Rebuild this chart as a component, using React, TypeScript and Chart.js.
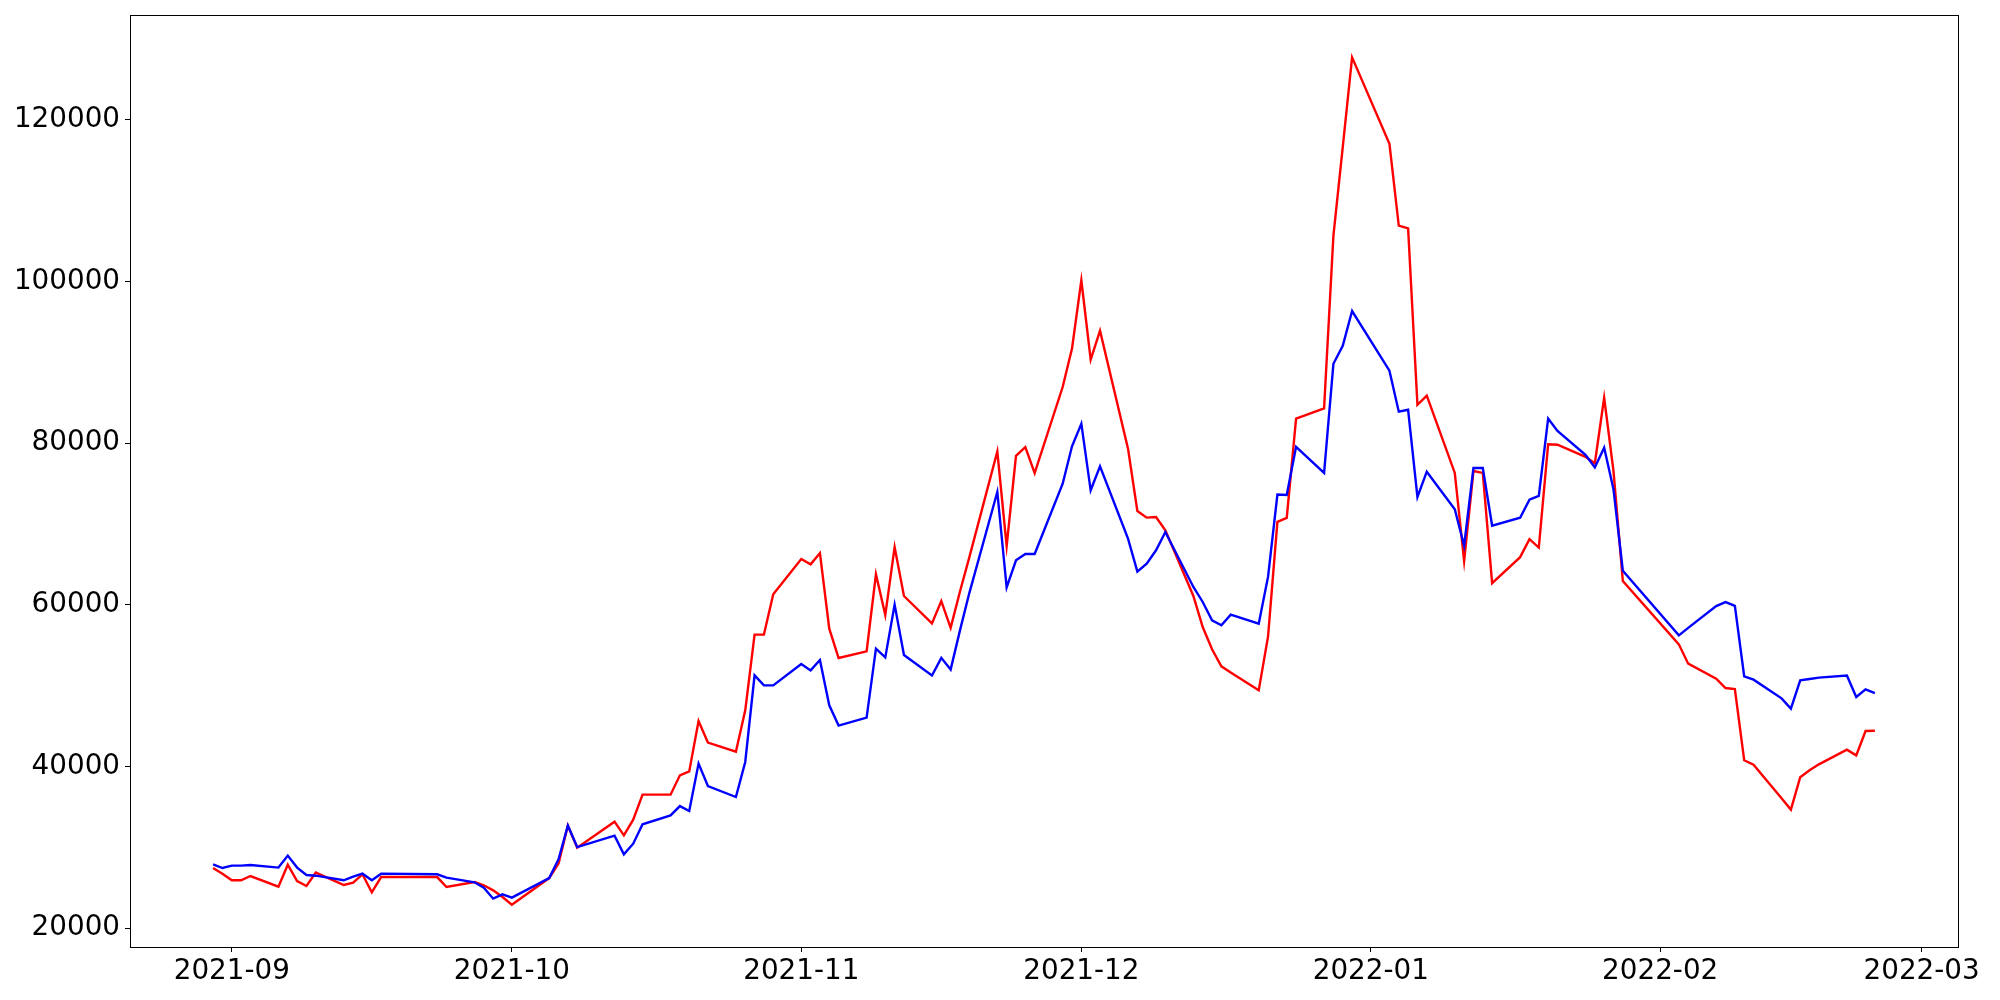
import React, { useEffect, useRef } from "react";
import { Chart, registerables } from "chart.js";

Chart.register(...registerables);

const dates: string[] = [
  "2021-08-30", "2021-08-31", "2021-09-01", "2021-09-02", "2021-09-03",
  "2021-09-06", "2021-09-07", "2021-09-08", "2021-09-09", "2021-09-10",
  "2021-09-13", "2021-09-14", "2021-09-15", "2021-09-16", "2021-09-17",
  "2021-09-23", "2021-09-24", "2021-09-27", "2021-09-28", "2021-09-29",
  "2021-09-30", "2021-10-01", "2021-10-05", "2021-10-06", "2021-10-07",
  "2021-10-08", "2021-10-12", "2021-10-13", "2021-10-14", "2021-10-15",
  "2021-10-18", "2021-10-19", "2021-10-20", "2021-10-21", "2021-10-22",
  "2021-10-25", "2021-10-26", "2021-10-27", "2021-10-28", "2021-10-29",
  "2021-11-01", "2021-11-02", "2021-11-03", "2021-11-04", "2021-11-05",
  "2021-11-08", "2021-11-09", "2021-11-10", "2021-11-11", "2021-11-12",
  "2021-11-15", "2021-11-16", "2021-11-17", "2021-11-18", "2021-11-19",
  "2021-11-22", "2021-11-23", "2021-11-24", "2021-11-25", "2021-11-26",
  "2021-11-29", "2021-11-30", "2021-12-01", "2021-12-02", "2021-12-03",
  "2021-12-06", "2021-12-07", "2021-12-08", "2021-12-09", "2021-12-10",
  "2021-12-13", "2021-12-14", "2021-12-15", "2021-12-16", "2021-12-17",
  "2021-12-20", "2021-12-21", "2021-12-22", "2021-12-23", "2021-12-24",
  "2021-12-27", "2021-12-28", "2021-12-29", "2021-12-30",
  "2022-01-03", "2022-01-04", "2022-01-05", "2022-01-06", "2022-01-07",
  "2022-01-10", "2022-01-11", "2022-01-12", "2022-01-13", "2022-01-14",
  "2022-01-17", "2022-01-18", "2022-01-19", "2022-01-20", "2022-01-21",
  "2022-01-24", "2022-01-25", "2022-01-26", "2022-01-27", "2022-01-28",
  "2022-02-03", "2022-02-04",
  "2022-02-07", "2022-02-08", "2022-02-09", "2022-02-10", "2022-02-11",
  "2022-02-14", "2022-02-15", "2022-02-16", "2022-02-17", "2022-02-18",
  "2022-02-21", "2022-02-22", "2022-02-23", "2022-02-24",
];

const redValues: number[] = [
  27450, 26750, 25930, 25930, 26460,
  25140, 27860, 25840, 25220, 26880,
  25350, 25640, 26670, 24440, 26330,
  26330, 25100, 25720, 25310, 24690,
  23860, 22920, 26210, 27990, 32690,
  29970, 33180, 31490, 33430, 36520,
  36520, 38910, 39400, 45630, 42960,
  41840, 46950, 56310, 56310, 61300,
  65660, 65000, 66400, 57050, 53420,
  54240, 63770, 58730, 67140, 61090,
  57700, 60470, 57150, 61640, 65870,
  78950, 67250, 78420, 79510, 76290,
  86930, 91680, 100130, 90320, 93900,
  79310, 71600, 70780, 70860, 69210,
  61100, 57250, 54500, 52390, 51620,
  49420, 56100, 70250, 70750, 83030,
  84300, 105650, 116600, 127700,
  117020, 106900, 106550, 84730, 85870,
  76310, 65430, 76540, 76310, 62680,
  65890, 68120, 67080, 79860, 79800,
  78300, 77500, 85600, 76540, 62930,
  55110, 52720,
  50870, 49710, 49590, 40770, 40230,
  36080, 34670, 38680, 39530, 40270,
  42080, 41380, 44390, 44420,
];

const blueValues: number[] = [
  27900, 27450, 27740, 27740, 27820,
  27500, 28980, 27500, 26580, 26500,
  25930, 26380, 26750, 25930, 26750,
  26670, 26260, 25680, 25020, 23660,
  24190, 23790, 26210, 28520, 32690,
  30040, 31450, 29140, 30460, 32850,
  33960, 35110, 34500, 40360, 37590,
  36230, 40560, 51280, 50040, 50040,
  52670, 51890, 53170, 47570, 45060,
  46040, 54580, 53500, 60020, 53790,
  51260, 53440, 52000, 56840, 61450,
  73950, 62160, 65500, 66280, 66280,
  74980, 79600, 82400, 74160, 77120,
  68180, 64110, 65090, 66740, 69000,
  62200, 60350, 58080, 57460, 58780,
  57670, 63480, 73640, 73580, 79530,
  76320, 89810, 92030, 96330,
  88950, 83880, 84120, 73330, 76460,
  71820, 67310, 76920, 76920, 69780,
  70770, 73000, 73470, 83030, 81500,
  78550, 76990, 79430, 74280, 64210,
  56220, 57150,
  59840, 60330, 59880, 51150, 50740,
  48430, 47160, 50660, 50820, 50990,
  51260, 48600, 49550, 49090,
];

const xTickLabels: string[] = ["2021-09", "2021-10", "2021-11", "2021-12", "2022-01", "2022-02", "2022-03"];
const yTickValues: number[] = [20000, 40000, 60000, 80000, 100000, 120000];

const toMs = (d: string) => new Date(d + "T00:00:00Z").getTime();

const formatMonth = (v: number) => {
  const d = new Date(v);
  const m = d.getUTCMonth() + 1;
  return `${d.getUTCFullYear()}-${m < 10 ? "0" + m : m}`;
};

const boxPlugin = {
  id: "boxPlugin",
  afterDatasetsDraw(chart: any) {
    const { ctx, chartArea } = chart;
    ctx.save();
    ctx.strokeStyle = "#000";
    ctx.lineWidth = 1;
    ctx.strokeRect(
      Math.round(chartArea.left) + 0.5,
      Math.round(chartArea.top) + 0.5,
      Math.round(chartArea.right - chartArea.left),
      Math.round(chartArea.bottom - chartArea.top)
    );
    ctx.restore();
  },
};

export default function App() {
  const canvasRef = useRef<HTMLCanvasElement | null>(null);

  useEffect(() => {
    if (!canvasRef.current) return;
    const xs = dates.map(toMs);
    const xMin0 = Math.min(...xs);
    const xMax0 = Math.max(...xs);
    const xPad = (xMax0 - xMin0) * 0.05;
    const all = [...redValues, ...blueValues];
    const yMin0 = Math.min(...all);
    const yMax0 = Math.max(...all);
    const yPad = (yMax0 - yMin0) * 0.05;
    const font = { family: "'DejaVu Sans', sans-serif", size: 27.8 };

    const chart = new Chart(canvasRef.current, {
      type: "line",
      data: {
        datasets: [
          {
            label: "blue",
            data: xs.map((x, i) => ({ x, y: blueValues[i] })),
            borderColor: "#0000ff",
            backgroundColor: "#0000ff",
            borderWidth: 2.4,
            pointRadius: 0,
            tension: 0,
            fill: false,
          },
          {
            label: "red",
            data: xs.map((x, i) => ({ x, y: redValues[i] })),
            borderColor: "#ff0000",
            backgroundColor: "#ff0000",
            borderWidth: 2.4,
            pointRadius: 0,
            tension: 0,
            fill: false,
          },
        ],
      },
      options: {
        animation: false,
        responsive: false,
        devicePixelRatio: 1,
        layout: { padding: { left: 0, top: 15, right: 42, bottom: 0 } },
        plugins: { legend: { display: false }, tooltip: { enabled: false } },
        scales: {
          x: {
            type: "linear",
            min: xMin0 - xPad,
            max: xMax0 + xPad,
            afterBuildTicks: (scale: any) => {
              scale.ticks = xTickLabels.map((l) => ({ value: toMs(l + "-01") }));
            },
            afterFit: (scale: any) => {
              scale.height = 53;
            },
            ticks: {
              autoSkip: false,
              maxRotation: 0,
              minRotation: 0,
              color: "#000",
              font,
              padding: 3,
              callback: (v: any) => formatMonth(Number(v)),
            },
            grid: {
              display: true,
              drawOnChartArea: false,
              drawTicks: true,
              tickLength: 5,
              tickColor: "#000",
              tickWidth: 1,
            },
            border: { display: false },
          },
          y: {
            type: "linear",
            min: yMin0 - yPad,
            max: yMax0 + yPad,
            afterBuildTicks: (scale: any) => {
              scale.ticks = yTickValues.map((v) => ({ value: v }));
            },
            afterFit: (scale: any) => {
              scale.width = 130;
              scale.paddingTop = 0;
              scale.paddingBottom = 0;
            },
            ticks: {
              autoSkip: false,
              color: "#000",
              font,
              padding: 5,
              callback: (v: any) => String(v),
            },
            grid: {
              display: true,
              drawOnChartArea: false,
              drawTicks: true,
              tickLength: 5,
              tickColor: "#000",
              tickWidth: 1,
            },
            border: { display: false },
          },
        },
      },
      plugins: [boxPlugin],
    });

    return () => chart.destroy();
  }, []);

  return (
    <div style={{ position: "fixed", left: 0, top: 0, width: 2000, height: 1000, background: "#fff" }}>
      <canvas ref={canvasRef} width={2000} height={1000} style={{ display: "block", width: 2000, height: 1000 }} />
    </div>
  );
}
